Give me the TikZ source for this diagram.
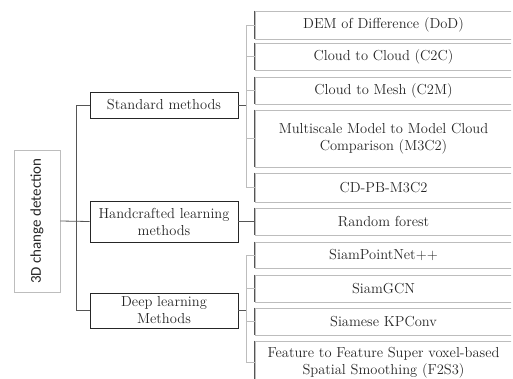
\documentclass[tikz,border=0pt]{standalone}
\usepackage{fontspec}
\newfontfamily\calfont{Carlito}
\usepackage{tikz}
\usetikzlibrary{positioning}
\definecolor{linegray}{HTML}{BDBDBD}
\definecolor{edgegray}{HTML}{555555}
\definecolor{inkgray}{HTML}{262626}

\begin{document}
\begin{tikzpicture}[x=1pt,y=-1pt,
   every node/.append style={align=center,text=inkgray,inner sep=0pt},
   rootbox/.style={draw=linegray,line width=0.8pt,rotate=90,minimum width=142pt,minimum height=46pt,font=\calfont\fontsize{15}{18}\selectfont},
   groupbox/.style={draw=inkgray,line width=0.8pt,minimum width=148pt,font=\fontsize{14.5}{17}\selectfont},
   leafbox/.style={draw=linegray,line width=0.8pt,minimum width=257pt,font=\fontsize{14.5}{17}\selectfont},
   stem/.style={draw=edgegray,line width=0.8pt},
   twig/.style={draw=linegray,line width=0.8pt},
   leftedge/.style={draw=edgegray,line width=1.3pt}
]
\useasboundingbox (0,0) rectangle (513,378);
\clip (0,0) rectangle (511,378);

% root and groups
\node[rootbox] (root) at (37,221) {3D change detection};
\node[groupbox,minimum height=26pt] (std) at (164,105) {Standard methods};
\node[groupbox,minimum height=41pt] (hand) at (164,221.5) {Handcrafted learning\\methods};
\node[groupbox,minimum height=35pt] (deep) at (164,310.5) {Deep learning\\Methods};

% leaves
\node[leafbox,minimum height=28pt] (dod) at (383.5,25) {DEM of Difference (DoD)};
\node[leafbox,minimum height=27pt] (ctoc) at (383.5,56.5) {Cloud to Cloud (C2C)};
\node[leafbox,minimum height=27pt] (ctom) at (383.5,90.5) {Cloud to Mesh (C2M)};
\node[leafbox,minimum height=57pt] (mtc) at (383.5,138.5) {Multiscale Model to Model Cloud\\Comparison (M3C2)};
\node[leafbox,minimum height=29pt] (pb) at (383.5,187.5) {CD-PB-M3C2};
\node[leafbox,minimum height=27pt] (rf) at (383.5,221.5) {Random forest};
\node[leafbox,minimum height=26pt] (spn) at (383.5,255) {SiamPointNet++};
\node[leafbox,minimum height=27pt] (gcn) at (383.5,288.5) {SiamGCN};
\node[leafbox,minimum height=27pt] (kpc) at (383.5,321.5) {Siamese KPConv};
\node[leafbox,minimum height=43pt] (fts) at (383.5,362.5) {Feature to Feature Super voxel-based\\Spatial Smoothing (F2S3)};

\foreach \n in {dod,ctoc,ctom,mtc,pb,rf,spn,gcn,kpc,fts}
  \draw[leftedge] (\n.north west) -- (\n.south west);

% forks
\coordinate (rootfork) at (76,221.5);
\coordinate (stdfork) at (246,105);
\coordinate (deepfork) at (246,310.5);

\draw[stem] (root.south) -- (hand.west);
\draw[stem] (rootfork) |- (std.west);
\draw[stem] (rootfork) |- (deep.west);

\draw[stem] (std.east) -- (stdfork);
\foreach \n in {dod,ctoc,ctom,mtc,pb}
  \draw[twig] (stdfork) |- (\n.west);

\draw[stem] (hand.east) -- (rf.west);

\draw[stem] (deep.east) -- (deepfork);
\foreach \n in {spn,gcn,kpc,fts}
  \draw[twig] (deepfork) |- (\n.west);
\end{tikzpicture}
\end{document}
